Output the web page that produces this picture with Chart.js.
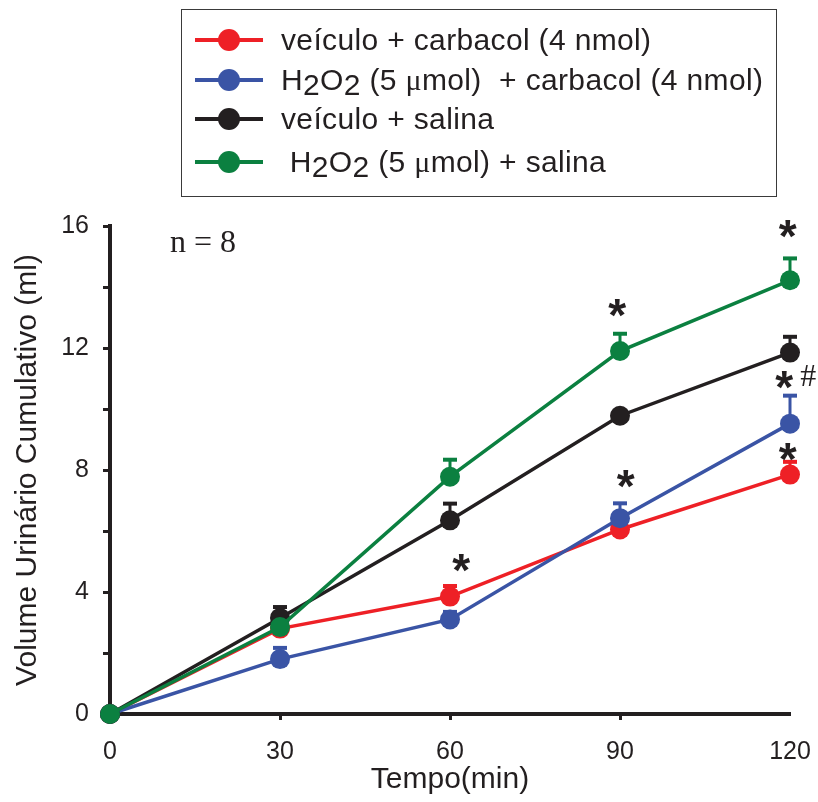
<!DOCTYPE html>
<html lang="pt">
<head>
<meta charset="UTF-8">
<title>Volume urinário cumulativo</title>
<script src="https://cdn.jsdelivr.net/npm/chart.js"></script>
<style>
  body { margin: 0; background: #fff; }
  #wrap { position: relative; width: 818px; height: 802px; }
  #legenda {
    position: absolute; left: 181px; top: 9px; width: 596px; height: 188px;
    border: 1.5px solid #3a3a3a; box-sizing: border-box;
    font-family: 'Liberation Sans', Arial, sans-serif; font-size: 30px; letter-spacing: 0.35px; color: #231f20;
  }
  .linha { position: absolute; left: 13px; height: 40px; display: flex; align-items: center; white-space: pre; }
  .amostra { position: relative; width: 68px; height: 4px; margin-right: 18px; flex: none; }
  .amostra i { position: absolute; left: 23px; top: -9px; width: 22px; height: 22px; border-radius: 50%; }
  .sub { position: relative; top: 5px; }
  .mu { font-family: 'Liberation Serif', serif; }
  #n { position: absolute; left: 170px; top: 224px; line-height: 34px; font-family: 'Liberation Serif', serif; font-size: 32px; color: #231f20; }
</style>
</head>
<body>
<div id="wrap">
  <canvas id="grafico" width="818" height="802"></canvas>
  <div id="legenda"></div>
  <div id="n">n = 8</div>
</div>
<script>
  // dados (média e EPM superior)
  const tempos = [0, 30, 60, 90, 120];
  const veiculoCarbacol = [0, 2.8, 3.85, 6.05, 7.85];
  const veiculoCarbacolEpm = [0, 0.15, 0.38, 0.2, 0.45];
  const h2o2Carbacol = [0, 1.8, 3.1, 6.42, 9.52];
  const h2o2CarbacolEpm = [0, 0.4, 0.28, 0.52, 0.95];
  const veiculoSalina = [0, 3.15, 6.35, 9.78, 11.85];
  const veiculoSalinaEpm = [0, 0.39, 0.58, 0.15, 0.55];
  const h2o2Salina = [0, 2.85, 7.78, 11.9, 14.22];
  const h2o2SalinaEpm = [0, 0.2, 0.59, 0.6, 0.75];
  const yRotulos = [0, 4, 8, 12, 16];
  const nomes = [
    'veículo + carbacol (4 nmol)',
    'H<span class="sub">2</span>O<span class="sub">2</span> (5 <span class="mu">μ</span>mol)  + carbacol (4 nmol)',
    'veículo + salina',
    ' H<span class="sub">2</span>O<span class="sub">2</span> (5 <span class="mu">μ</span>mol) + salina'
  ];
  // marcas de significância: [tempo, volume, texto]
  const marcas = [
    [62, 4.95, '*'], [91, 7.7, '*'], [89.5, 13.3, '*'], [119.6, 15.9, '*'],
    [119, 10.95, '*'], [123.2, 11.1, '#'], [119.6, 8.6, '*']
  ];

  const cores = ['#ee2026', '#3a54a5', '#231f20', '#0b8040'];
  const series = [veiculoCarbacol, h2o2Carbacol, veiculoSalina, h2o2Salina];
  const erros = [veiculoCarbacolEpm, h2o2CarbacolEpm, veiculoSalinaEpm, h2o2SalinaEpm];
  const fonte = "'Liberation Sans', Arial, sans-serif";

  // legenda em HTML
  const legenda = document.getElementById('legenda');
  nomes.forEach((nome, i) => {
    const row = document.createElement('div');
    row.className = 'linha';
    row.style.top = [10, 50, 89, 132][i] + 'px';
    row.innerHTML = '<div class="amostra" style="background:' + cores[i] + '"><i style="background:' + cores[i] + '"></i></div><span>' + nome + '</span>';
    legenda.appendChild(row);
  });

  const barrasErro = {
    id: 'barrasErro',
    beforeDatasetsDraw(chart) {
      const ctx = chart.ctx, x = chart.scales.x, y = chart.scales.y;
      ctx.save();
      erros.forEach((e, d) => {
        ctx.strokeStyle = cores[d];
        series[d].forEach((v, i) => {
          if (!e[i]) return;
          const px = x.getPixelForValue(tempos[i]);
          const y0 = y.getPixelForValue(v), y1 = y.getPixelForValue(v + e[i]);
          ctx.lineWidth = 3;
          ctx.beginPath(); ctx.moveTo(px, y0); ctx.lineTo(px, y1); ctx.stroke();
          ctx.lineWidth = 4;
          ctx.beginPath(); ctx.moveTo(px - 7, y1 + 1); ctx.lineTo(px + 7, y1 + 1); ctx.stroke();
        });
      });
      ctx.restore();
    },
    afterDatasetsDraw(chart) {
      const ctx = chart.ctx, x = chart.scales.x, y = chart.scales.y;
      ctx.save();
      ctx.fillStyle = '#231f20';
      ctx.textBaseline = 'alphabetic';
      ctx.textAlign = 'left';
      marcas.forEach(([t, v, s]) => {
        ctx.font = s === '*' ? 'bold 46px ' + fonte : "32px 'Liberation Serif', serif";
        const m = ctx.measureText(s);
        const cx = x.getPixelForValue(t), cy = y.getPixelForValue(v);
        const dx = (m.actualBoundingBoxRight - m.actualBoundingBoxLeft) / 2 - m.actualBoundingBoxRight;
        const dy = (m.actualBoundingBoxAscent - m.actualBoundingBoxDescent) / 2;
        ctx.fillText(s, cx + dx, cy + dy);
      });
      ctx.restore();
    }
  };

  new Chart(document.getElementById('grafico'), {
    type: 'line',
    data: {
      datasets: series.map((s, d) => ({
        data: s.map((v, i) => ({ x: tempos[i], y: v })),
        borderColor: cores[d],
        backgroundColor: cores[d],
        borderWidth: 3.5,
        pointRadius: 10,
        pointBorderWidth: 0,
        tension: 0,
        clip: false,
        order: 4 - d
      }))
    },
    options: {
      responsive: false,
      animation: false,
      layout: { padding: { top: 226, right: 28, left: 0, bottom: 0 } },
      plugins: { legend: { display: false }, tooltip: { enabled: false } },
      scales: {
        x: {
          type: 'linear', min: 0, max: 120,
          afterBuildTicks: s => { s.ticks = tempos.map(v => ({ value: v })); },
          afterFit: s => { s.height = 88; s.paddingLeft = 0; s.paddingRight = 0; },
          border: { color: '#231f20', width: 4 },
          grid: {
            drawOnChartArea: false, tickLength: 6, tickWidth: 3,
            tickColor: c => (c.tick && c.tick.value === 120) ? 'rgba(0,0,0,0)' : '#231f20'
          },
          ticks: { color: '#231f20', font: { family: fonte, size: 25 }, padding: 17, maxRotation: 0 },
          title: { display: true, text: 'Tempo(min)', color: '#231f20', font: { family: fonte, size: 30 }, padding: { top: 0, bottom: 4 } }
        },
        y: {
          min: 0, max: 16,
          afterFit: s => { s.width = 110; },
          border: { color: '#231f20', width: 4 },
          grid: { drawOnChartArea: false, tickLength: 7, tickWidth: 3, tickColor: '#231f20' },
          ticks: {
            stepSize: 2, color: '#231f20', font: { family: fonte, size: 25 }, padding: 14,
            callback: v => yRotulos.includes(v) ? v : ''
          },
          title: { display: true, text: 'Volume Urinário Cumulativo (ml)', color: '#231f20', font: { family: fonte, size: 30 }, padding: { top: 10, bottom: 0 } }
        }
      }
    },
    plugins: [barrasErro]
  });
</script>
</body>
</html>
